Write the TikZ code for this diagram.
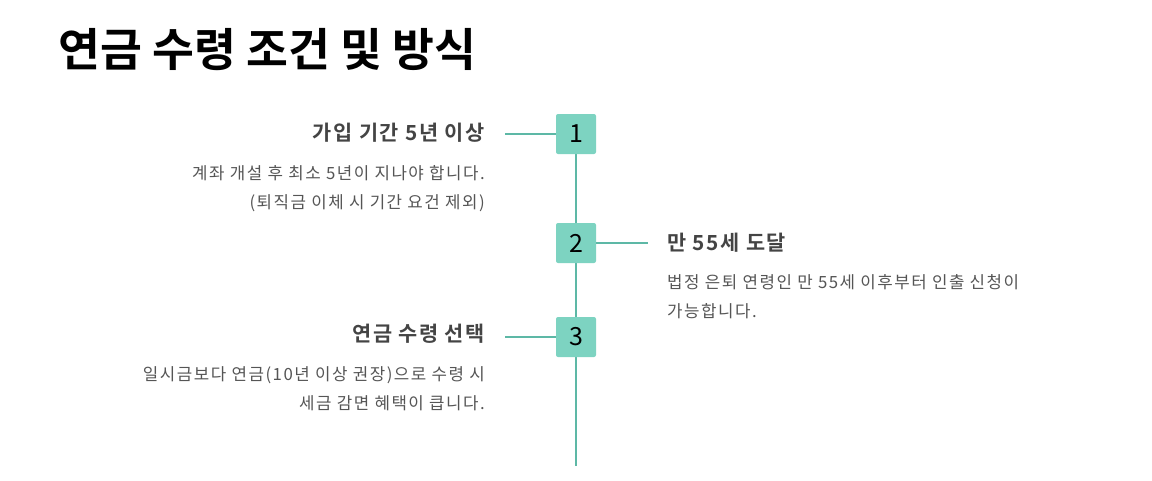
\documentclass[tikz,border=0pt]{standalone}
\usepackage{fontspec}
\setmainfont{Noto Sans CJK KR}
\newfontfamily\krbold{Noto Sans CJK KR Bold}
\newfontfamily\krhead[LetterSpace=8]{Noto Sans CJK KR Bold}
\newfontfamily\krdesc[LetterSpace=9]{Noto Sans CJK KR}
\definecolor{teal1}{HTML}{5DB8A6}
\definecolor{boxfill}{HTML}{7DD3C1}
\definecolor{headc}{HTML}{444444}
\definecolor{descc}{HTML}{555555}
\begin{document}
\begin{tikzpicture}[x=1pt,y=-1pt,
  numbox/.style={fill=boxfill,minimum width=40pt,minimum height=40pt,rounded corners=2pt,inner sep=0pt,font=\fontsize{25}{28}\selectfont,text=black},
  conn/.style={draw=teal1,line width=1.6pt},
  headL/.style={anchor=east,font=\krhead\fontsize{20.8}{24}\selectfont,text=headc,inner sep=0pt},
  headR/.style={anchor=west,font=\krhead\fontsize{20.8}{24}\selectfont,text=headc,inner sep=0pt},
  descL/.style={anchor=north east,align=right,font=\krdesc\fontsize{16.8}{29}\selectfont,text=descc,inner sep=0pt},
  descR/.style={anchor=north west,align=left,font=\krdesc\fontsize{16.8}{29}\selectfont,text=descc,inner sep=0pt}]
\useasboundingbox (0,0) rectangle (1152,480);
\node[anchor=west,inner sep=0pt,font=\krbold\fontsize{45.5}{50}\selectfont] (title) at (58,50) {연금 수령 조건 및 방식};
\coordinate (top) at (576,134);
\coordinate (bot) at (576,466);
\draw[conn] (top) -- (bot);
\node[numbox] (b1) at (576,134) {1};
\node[numbox] (b2) at (576,243) {2};
\node[numbox] (b3) at (576,337) {3};
\node[headL] (h1) at (485,133) {가입 기간 5년 이상};
\node[headR] (h2) at (667,243) {만 55세 도달};
\node[headL] (h3) at (485,334) {연금 수령 선택};
\coordinate (c1) at (505,134);
\coordinate (c2) at (648,243);
\coordinate (c3) at (505,337);
\draw[conn] (c1) -- (b1.west);
\draw[conn] (b2.east) -- (c2);
\draw[conn] (c3) -- (b3.west);
\node[descL] (d1) at (485,165.5) {계좌 개설 후 최소 5년이 지나야 합니다.\\(퇴직금 이체 시 기간 요건 제외)};
\node[descR] (d2) at (667,274.5) {법정 은퇴 연령인 만 55세 이후부터 인출 신청이\\가능합니다.};
\node[descL] (d3) at (485,366.5) {일시금보다 연금(10년 이상 권장)으로 수령 시\\세금 감면 혜택이 큽니다.};
\end{tikzpicture}
\end{document}
